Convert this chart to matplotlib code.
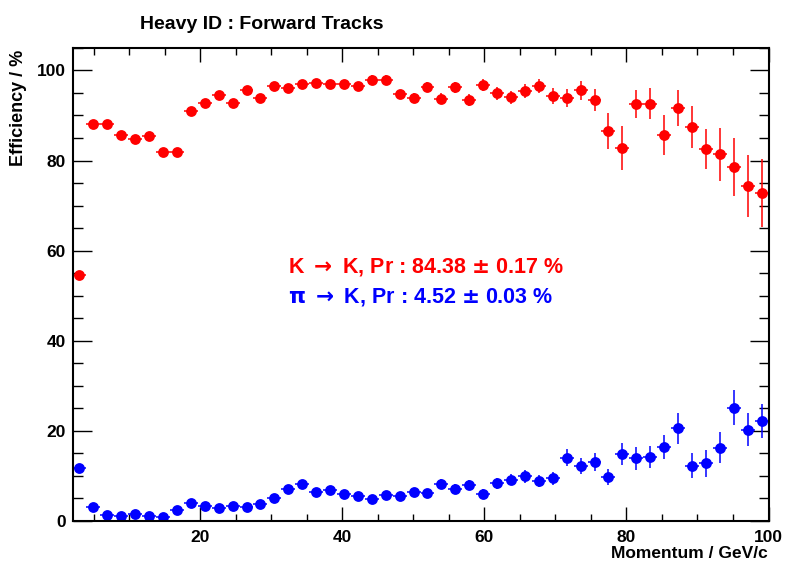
import numpy as np
import matplotlib
matplotlib.use("Agg")
import matplotlib.pyplot as plt
from matplotlib.ticker import MultipleLocator

# 50 momentum bins between 2 and 100 GeV/c
bin_edges = np.linspace(2, 100, 51)
momentum = 0.5 * (bin_edges[:-1] + bin_edges[1:])
half_width = 0.5 * np.diff(bin_edges)

# K -> K efficiency (%)
k_eff = [54.6, 88.2, 88.0, 85.7, 84.8, 85.4, 82.0, 82.0, 91.1, 92.7,
         94.5, 92.8, 95.7, 93.9, 96.5, 96.1, 97.0, 97.3, 97.0, 96.9,
         96.5, 97.9, 97.9, 94.7, 93.9, 96.3, 93.7, 96.3, 93.4, 96.8,
         94.9, 94.0, 95.4, 96.6, 94.4, 93.8, 95.6, 93.5, 86.6, 82.7,
         92.6, 92.6, 85.7, 91.7, 87.5, 82.6, 81.4, 78.5, 74.4, 72.8]
k_err = [0.6, 0.6, 0.6, 0.7, 0.7, 0.7, 0.8, 0.8, 0.7, 0.7,
         0.7, 0.8, 0.8, 0.8, 0.8, 0.9, 0.9, 0.9, 0.9, 0.9,
         1.0, 1.0, 1.0, 1.0, 1.1, 1.1, 1.2, 1.2, 1.3, 1.3,
         1.4, 1.5, 1.6, 1.6, 1.8, 2.0, 2.1, 2.4, 4.0, 4.9,
         3.1, 3.4, 4.5, 4.0, 4.7, 4.4, 5.9, 6.4, 6.9, 7.5]

# pi -> K misidentification (%)
pi_eff = [11.7, 2.9, 1.2, 1.05, 1.5, 0.9, 0.7, 2.4, 3.9, 3.3,
          2.8, 3.2, 2.9, 3.6, 5.0, 7.0, 8.1, 6.4, 6.7, 5.8,
          5.4, 4.7, 5.6, 5.4, 6.3, 6.1, 8.1, 7.0, 7.9, 6.0,
          8.3, 9.1, 9.8, 8.8, 9.4, 14.0, 12.1, 13.0, 9.7, 14.8,
          13.8, 14.1, 16.4, 20.5, 12.2, 12.7, 16.2, 25.1, 20.2, 22.1]
pi_err = [0.8, 0.5, 0.4, 0.4, 0.4, 0.4, 0.4, 0.5, 0.6, 0.6,
          0.6, 0.6, 0.6, 0.7, 0.8, 0.9, 0.9, 0.9, 0.9, 0.9,
          0.9, 0.9, 1.0, 1.0, 1.0, 1.0, 1.1, 1.1, 1.2, 1.1,
          1.2, 1.3, 1.4, 1.3, 1.4, 1.9, 1.7, 2.0, 1.8, 2.5,
          2.6, 2.5, 2.7, 3.4, 2.8, 3.0, 3.4, 3.9, 3.7, 3.7]

# arrow, pi and +- come from the (thin) math font like ROOT's Symbol glyphs
k_label = r"K $\rightarrow$ K, Pr : 84.38 $\pm$ 0.17 %"
pi_label = r"$\mathrm{\pi}$ $\rightarrow$ K, Pr : 4.52 $\pm$ 0.03 %"

plt.rcParams['font.family'] = ['Liberation Sans', 'DejaVu Sans']
plt.rcParams['font.weight'] = 'bold'

fig = plt.figure(figsize=(7.85, 5.62), dpi=100)
ax = fig.add_axes([0.0924, 0.0738, 0.8866, 0.8408])

for y, yerr, col in [(k_eff, k_err, '#ff0000'), (pi_eff, pi_err, '#0000ff')]:
    ax.errorbar(momentum, y, xerr=half_width, yerr=yerr, fmt='o', color=col,
                ms=7.8, mew=0, elinewidth=1.1, capsize=0)

ax.set_xlim(2, 100)
ax.set_ylim(0, 105)
ax.xaxis.set_major_locator(MultipleLocator(20))
ax.xaxis.set_minor_locator(MultipleLocator(5))
ax.yaxis.set_major_locator(MultipleLocator(20))
ax.yaxis.set_minor_locator(MultipleLocator(5))

for s in ax.spines.values():
    s.set_linewidth(1.5)
ax.tick_params(axis='x', which='major', direction='in', length=10, width=1,
               top=True, labelsize=12.5, pad=6.5)
ax.tick_params(axis='x', which='minor', direction='in', length=5, width=1, top=True)
ax.tick_params(axis='y', which='major', direction='in', length=14, width=1,
               right=True, labelsize=12.5, pad=5)
ax.tick_params(axis='y', which='minor', direction='in', length=7, width=1, right=True)

fig.text(140 / 785, 1 - 29 / 562, "Heavy ID : Forward Tracks", fontsize=14,
         fontweight='bold', ha='left', va='baseline')
fig.text(768 / 785, 1 - 558 / 562, "Momentum / GeV/c", fontsize=12.5,
         fontweight='bold', ha='right', va='baseline')
fig.text(19 / 785, 1 - 50 / 562, "Efficiency / %", fontsize=13, fontweight='bold',
         rotation=90, ha='center', va='top')

fig.text(288 / 785, 1 - 273 / 562, k_label, fontsize=15.5, fontweight='bold',
         color='#ff0000', ha='left', va='baseline')
fig.text(288 / 785, 1 - 302 / 562, pi_label, fontsize=15.5, fontweight='bold',
         color='#0000ff', ha='left', va='baseline')

fig.savefig("out.png", dpi=100)
